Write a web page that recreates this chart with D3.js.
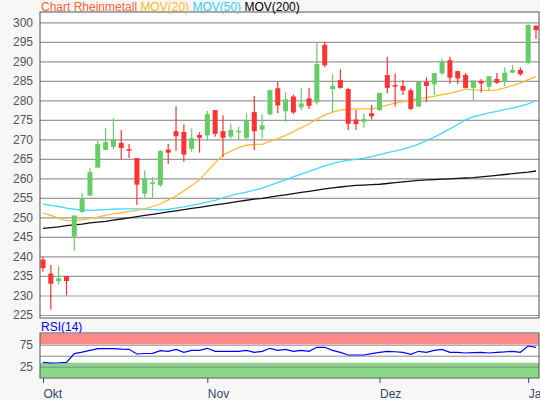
<!DOCTYPE html>
<html><head><meta charset="utf-8">
<script src="https://cdn.jsdelivr.net/npm/d3@7"></script>
<style>body{margin:0;background:#f7f7f7;}svg{display:block;font-family:"Liberation Sans",Arial,sans-serif;}</style>
</head><body><svg id="c" width="540" height="400"></svg>
<script>
const opens  = [239.2,235.6,233.7,235.0,245.1,251.4,255.6,262.8,267.3,268.1,269.1,267.5,265.2,256.1,258.6,258.3,267.4,272.1,271.9,267.6,271.1,271.0,277.5,272.1,270.7,271.8,270.4,277.0,272.5,276.4,283.1,277.2,281.0,278.2,280.5,279.5,294.2,282.9,285.2,282.9,275.1,274.5,276.7,277.5,286.5,283.9,283.7,282.6,278.4,284.7,284.1,286.9,290.3,287.5,286.5,283.2,285.0,283.5,285.5,284.9,287.1,287.8,289.6,299.1];
const closes = [237.0,233.0,234.4,233.7,250.5,254.7,261.6,268.8,269.3,270.0,267.8,267.1,258.4,260.0,259.0,267.0,266.6,270.8,266.1,270.3,270.4,276.5,271.4,270.4,272.4,272.2,274.7,272.1,273.6,282.6,278.7,280.3,276.9,279.2,278.6,289.3,289.0,283.7,283.2,274.0,273.9,275.2,275.9,281.9,283.2,283.5,282.5,277.8,284.7,283.7,287.0,290.0,285.8,285.6,283.2,285.1,284.3,286.2,284.5,287.1,287.8,286.7,299.3,298.0];
const highs  = [239.9,237.8,237.5,235.0,250.5,256.2,262.6,269.6,272.9,275.5,272.4,268.8,265.2,262.0,260.3,267.3,268.8,278.5,273.9,272.8,271.8,277.3,277.5,276.2,274.1,273.2,276.7,281.1,276.5,282.8,284.7,282.1,281.5,283.1,283.1,295.0,295.0,286.7,288.0,283.2,277.5,276.7,278.8,282.0,291.2,286.9,285.2,283.1,284.7,285.9,287.0,290.6,291.2,287.6,287.0,285.1,285.5,286.2,287.0,288.5,289.1,288.5,299.9,299.3];
const lows   = [236.1,226.4,232.8,230.0,241.4,251.2,255.5,262.6,267.3,267.4,265.0,265.2,253.2,255.1,255.1,257.8,263.7,267.1,264.3,266.8,266.6,269.6,270.7,265.4,270.2,269.8,270.0,267.3,270.2,276.2,276.7,274.5,276.5,277.5,277.8,278.9,288.5,277.1,283.0,272.4,272.4,273.0,275.1,277.3,281.8,278.4,281.4,277.5,278.4,279.6,281.4,286.5,284.2,284.2,283.1,280.1,282.0,282.6,284.2,283.7,287.1,286.3,289.2,295.7];
const mov20  = [251.1,250.5,249.8,249.2,249.2,249.4,249.7,250.1,250.5,250.9,251.2,251.5,251.8,252.2,252.8,253.5,254.5,255.5,256.8,258.2,259.7,261.8,264.0,266.0,267.0,267.9,268.5,268.7,268.7,269.5,270.2,271.0,272.0,273.0,274.0,275.2,276.2,277.0,277.5,277.7,277.8,277.8,277.8,278.3,278.8,279.3,279.7,280.1,280.4,280.7,281.0,281.5,281.8,282.3,282.9,282.7,282.6,282.5,282.7,283.2,283.8,284.4,285.3,286.1];
const mov50  = [253.4,253.1,252.8,252.4,252.1,251.9,251.8,251.9,252.0,252.1,252.2,252.2,252.2,252.1,252.0,251.9,252.1,252.4,252.7,253.1,253.5,253.9,254.4,255.0,255.6,256.1,256.5,257.0,257.5,258.2,258.9,259.6,260.4,261.1,261.8,262.5,263.2,263.8,264.3,264.6,264.9,265.2,265.6,266.1,266.6,267.0,267.5,268.1,268.8,269.7,270.6,271.6,272.7,273.8,275.0,275.8,276.3,276.8,277.2,277.6,278.0,278.5,279.1,279.9];
const mov200 = [247.2,247.4,247.6,247.9,248.1,248.3,248.6,248.8,249.0,249.3,249.6,249.9,250.2,250.5,250.8,251.1,251.4,251.7,252.0,252.3,252.6,252.9,253.2,253.5,253.8,254.1,254.4,254.7,254.9,255.2,255.5,255.8,256.1,256.4,256.7,257.0,257.3,257.6,257.8,258.0,258.2,258.3,258.4,258.5,258.7,258.9,259.1,259.3,259.5,259.6,259.7,259.8,259.9,260.0,260.1,260.2,260.4,260.6,260.8,261.0,261.2,261.4,261.6,261.9];
const rsi    = [35,33.4,34,35,54.6,58,62,65.9,65.9,65.9,65,64.5,53.9,55,55.4,61.4,60,64.5,57.7,62.2,62.2,66.8,60,60,60,60,62.2,57.7,60,66.8,62.2,64.5,60,62.2,60,69.1,69.1,62.2,57.7,51.6,51.6,51.6,54.6,57.7,60,59,57.7,53.2,60,57.7,62.2,64.5,57.7,57.7,56.1,57,57.7,56.1,57.7,58.5,60,57.7,72,69.1];
const yTicks = [225,230,235,240,245,250,255,260,265,270,275,280,285,290,295,300];
const monthLabels = ["Okt","Nov","Dez","Jan"];
const monthIdx = [0,21,43,62];

const svg = d3.select("#c");
const x = d3.scaleLinear().domain([0,63]).range([43,536]);
const y = d3.scaleLinear().domain([225,300]).range([315,22.3]);
const yr = d3.scaleLinear().domain([0,100]).range([377.7,333.7]);
const L=40,R=539;

// main panel
svg.append("rect").attr("x",L).attr("y",12).attr("width",R-L).attr("height",306).attr("fill","#fff");
const gy = svg.append("g").attr("transform",`translate(${L},0)`)
  .call(d3.axisLeft(y).tickValues(yTicks).tickSize(-(R-L)).tickPadding(7));
gy.select(".domain").remove();
gy.selectAll("line").attr("stroke","#999").attr("stroke-width",1.2);
gy.selectAll("text").attr("fill","#555").attr("font-size",12).attr("font-family","Liberation Sans, Arial");

const line = arr => d3.line().x((d,i)=>x(i)).y(d=>y(d))(arr);
svg.append("path").attr("d",line(mov200)).attr("fill","none").attr("stroke","#111").attr("stroke-width",1.3);
svg.append("path").attr("d",line(mov50)).attr("fill","none").attr("stroke","#44d8ff").attr("stroke-width",1.3);
svg.append("path").attr("d",line(mov20)).attr("fill","none").attr("stroke","#ffbb33").attr("stroke-width",1.3);

const idx = d3.range(opens.length);
const col = i => closes[i]>=opens[i] ? "#66cc66" : "#ff3333";
svg.append("g").selectAll("line").data(idx).join("line")
  .attr("x1",i=>x(i)).attr("x2",i=>x(i)).attr("y1",i=>y(highs[i])).attr("y2",i=>y(lows[i]))
  .attr("stroke",col).attr("stroke-width",1.2);
svg.append("g").selectAll("rect").data(idx).join("rect")
  .attr("x",i=>x(i)-2.5).attr("width",5)
  .attr("y",i=>y(Math.max(opens[i],closes[i])))
  .attr("height",i=>Math.max(1.5,Math.abs(y(opens[i])-y(closes[i]))))
  .attr("fill",col);
svg.append("rect").attr("x",L).attr("y",12).attr("width",R-L).attr("height",306).attr("fill","none").attr("stroke","#555").attr("stroke-width",1);

// title
const t = svg.append("text").attr("x",41).attr("y",11).attr("font-size",12);
t.append("tspan").attr("fill","#ff6633").text("Chart Rheinmetall ");
t.append("tspan").attr("fill","#ffbb22").text("MOV(20) ");
t.append("tspan").attr("fill","#33ccff").text("MOV(50) ");
t.append("tspan").attr("fill","#000").text("MOV(200)");

// RSI panel
svg.append("text").attr("x",41).attr("y",331).attr("font-size",12).attr("fill","#0000ff").text("RSI(14)");
svg.append("rect").attr("x",L).attr("y",333).attr("width",R-L).attr("height",45).attr("fill","#fff");
svg.append("rect").attr("x",L).attr("y",yr(100)).attr("width",R-L).attr("height",yr(76)-yr(100)).attr("fill","#ff8888");
svg.append("rect").attr("x",L).attr("y",yr(34)).attr("width",R-L).attr("height",yr(0)-yr(34)).attr("fill","#88d888");
const gr = svg.append("g").attr("transform",`translate(${L},0)`)
  .call(d3.axisLeft(yr).tickValues([25,50,75]).tickSize(-(R-L)).tickPadding(7).tickFormat(d=>d===50?"":d));
gr.select(".domain").remove();
gr.selectAll("line").attr("stroke","#888").attr("stroke-width",1);
gr.selectAll("text").attr("fill","#555").attr("font-size",12).attr("font-family","Liberation Sans, Arial");
svg.append("path").attr("d",d3.line().x((d,i)=>x(i)).y(d=>yr(d))(rsi)).attr("fill","none").attr("stroke","#0000ff").attr("stroke-width",1.2);
svg.append("rect").attr("x",L).attr("y",333).attr("width",R-L).attr("height",45).attr("fill","none").attr("stroke","#555").attr("stroke-width",1);

// x axis
const gx = svg.append("g").attr("transform","translate(0,378)")
  .call(d3.axisBottom(x).tickValues(monthIdx).tickSize(5).tickFormat((d,i)=>monthLabels[i]));
gx.select(".domain").remove();
gx.selectAll("line").attr("stroke","#2e4a6b");
gx.selectAll("text").attr("fill","#2e4a6b").attr("font-size",12).attr("text-anchor","start").attr("dy","1em").attr("font-family","Liberation Sans, Arial");
</script></body></html>
